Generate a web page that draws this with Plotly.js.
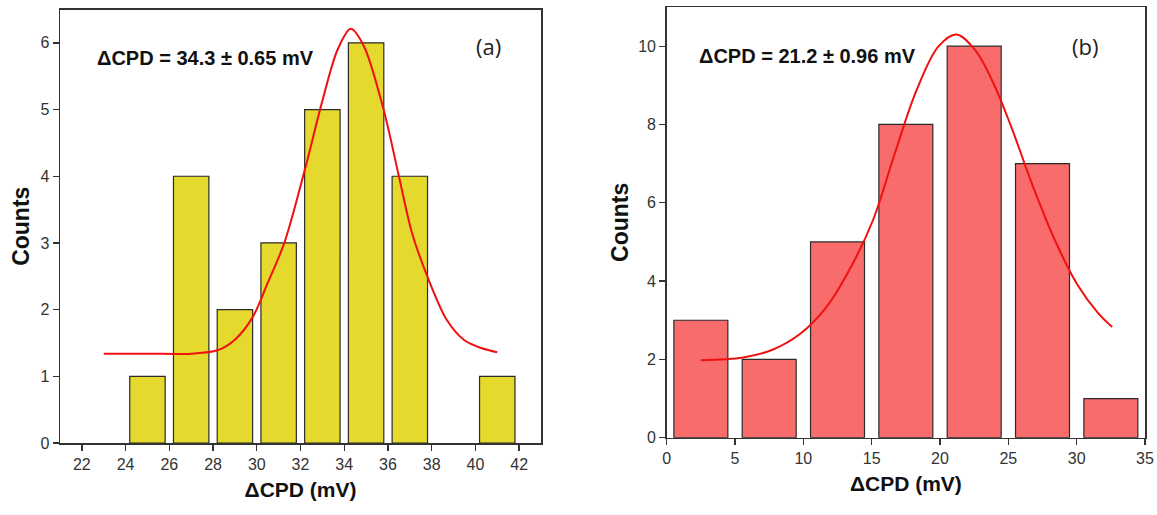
<!DOCTYPE html>
<html>
<head>
<meta charset="utf-8">
<script src="https://cdn.plot.ly/plotly-3.0.1.min.js"></script>
<style>html,body{margin:0;padding:0;background:#fff;}#chart{width:1157px;height:515px;}</style>
</head>
<body>
<div id="chart"></div>
<script>
// Panel (a)
const binsA = [25, 27, 29, 31, 33, 35, 37, 41];
const countsA = [1, 4, 2, 3, 5, 6, 4, 1];
const fitXA = [23.0, 25.0, 27.0, 28.2, 29.0, 29.8, 30.5, 31.26, 32.2, 33.0, 33.7, 34.3, 34.9, 35.8, 36.5, 37.1, 37.8, 38.7, 39.5, 40.3, 41.0];
const fitYA = [1.34, 1.34, 1.34, 1.39, 1.55, 1.88, 2.4, 3.0, 4.1, 5.13, 5.9, 6.21, 5.95, 5.0, 4.0, 3.15, 2.5, 1.84, 1.54, 1.42, 1.36];
const labelA = "ΔCPD = 34.3 ± 0.65 mV";

// Panel (b)
const binsB = [2.5, 7.5, 12.5, 17.5, 22.5, 27.5, 32.5];
const countsB = [3, 2, 5, 8, 10, 7, 1];
const fitXB = [2.5, 5.6, 7.7, 9.8, 11.7, 13.5, 15.1, 16.7, 18.3, 19.9, 21.2, 22.55, 23.9, 25.2, 26.8, 28.4, 30.0, 31.6, 32.6];
const fitYB = [1.98, 2.05, 2.24, 2.66, 3.34, 4.37, 5.56, 7.27, 8.89, 10.0, 10.3, 9.91, 9.06, 7.95, 6.42, 5.05, 3.94, 3.17, 2.83];
const labelB = "ΔCPD = 21.2 ± 0.96 mV";

const xTitle = "ΔCPD (mV)";
const yTitle = "Counts";

const FONT = "Liberation Sans, Arial, sans-serif";
const W = 1157, H = 515;

const traces = [
  {type: 'bar', x: binsA, y: countsA, width: 1.62, xaxis: 'x', yaxis: 'y',
   marker: {color: '#E4D92C', line: {color: '#2a2a2a', width: 1.2}}, hoverinfo: 'x+y'},
  {type: 'scatter', mode: 'lines', x: fitXA, y: fitYA, xaxis: 'x', yaxis: 'y',
   line: {color: '#F01010', width: 2, shape: 'spline', smoothing: 0.9}},
  {type: 'bar', x: binsB, y: countsB, width: 3.95, xaxis: 'x2', yaxis: 'y2',
   marker: {color: '#F86C6C', line: {color: '#2a2a2a', width: 1.2}}, hoverinfo: 'x+y'},
  {type: 'scatter', mode: 'lines', x: fitXB, y: fitYB, xaxis: 'x2', yaxis: 'y2',
   line: {color: '#F01010', width: 2, shape: 'spline', smoothing: 1}}
];

const axisCommon = {
  showgrid: false, zeroline: false, showline: true, linecolor: '#333', linewidth: 1.5,
  mirror: true, ticks: 'outside', ticklen: 6, tickwidth: 1.3, tickcolor: '#333',
  tickfont: {family: FONT, size: 16, color: '#333'}, fixedrange: true
};
const titleFont = {family: FONT, size: 21, color: '#111', weight: 'bold'};
const yTitleFont = {family: FONT, size: 23, color: '#111', weight: 'bold'};

const layout = {
  width: W, height: H, margin: {l: 0, r: 0, t: 0, b: 0},
  paper_bgcolor: '#fff', plot_bgcolor: '#fff', showlegend: false, bargap: 0,
  xaxis: Object.assign({}, axisCommon, {domain: [60/W, 541/W], range: [21, 43], tickmode: 'array',
    tickvals: [22,24,26,28,30,32,34,36,38,40,42], anchor: 'y',
    title: {text: xTitle, font: titleFont, standoff: 10}}),
  yaxis: Object.assign({}, axisCommon, {domain: [1-443/H, 1-9.5/H], range: [0, 6.5], dtick: 1, anchor: 'x',
    title: {text: yTitle, font: yTitleFont, standoff: 4}}),
  xaxis2: Object.assign({}, axisCommon, {domain: [666.7/W, 1145/W], range: [0, 35], dtick: 5, anchor: 'y2',
    title: {text: xTitle, font: titleFont, standoff: 10}}),
  yaxis2: Object.assign({}, axisCommon, {domain: [1-437.7/H, 1-7/H], range: [0, 11], dtick: 2, anchor: 'x2',
    title: {text: yTitle, font: yTitleFont, standoff: 3}}),
  annotations: [
    {xref: 'x', yref: 'y', x: 22.6, y: 5.78, text: labelA, showarrow: false, xanchor: 'left', yanchor: 'middle',
     font: {family: FONT, size: 20, color: '#111', weight: 'bold'}},
    {xref: 'x', yref: 'y', x: 40.6, y: 5.95, text: '(a)', showarrow: false, xanchor: 'center', yanchor: 'middle',
     font: {family: 'Open Sans, sans-serif', size: 22, color: '#222'}},
    {xref: 'x2', yref: 'y2', x: 2.2, y: 9.74, text: labelB, showarrow: false, xanchor: 'left', yanchor: 'middle',
     font: {family: FONT, size: 20, color: '#111', weight: 'bold'}},
    {xref: 'x2', yref: 'y2', x: 30.6, y: 10.0, text: '(b)', showarrow: false, xanchor: 'center', yanchor: 'middle',
     font: {family: 'Open Sans, sans-serif', size: 22, color: '#222'}}
  ]
};

Plotly.newPlot('chart', traces, layout, {staticPlot: true, displayModeBar: false});
</script>
</body>
</html>
